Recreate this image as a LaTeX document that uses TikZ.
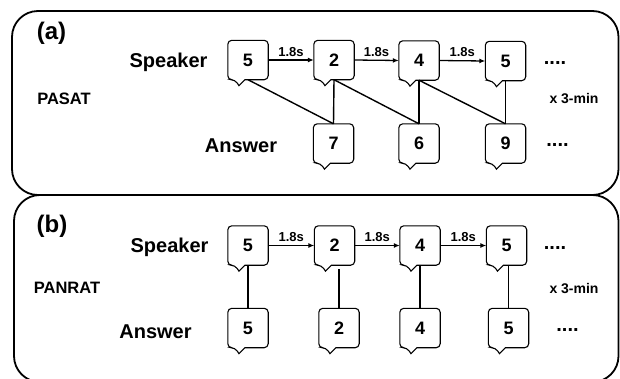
\documentclass[tikz,border=0pt]{standalone}
\usepackage{fontspec}
\setmainfont{Liberation Sans}
\usetikzlibrary{arrows.meta}

\tikzset{
  panel/.style={line width=1.8pt, rounded corners=26pt},
  bubble/.style={minimum width=40pt, minimum height=39pt, inner sep=0pt,
    font=\fontsize{18}{18}\selectfont\bfseries,
    append after command={\pgfextra{\let\bubblenode\tikzlastnode
      \draw[line width=1.1pt]
        ([xshift=-13pt]\bubblenode.south) -- ++(4pt,-6pt) -- ++(6pt,6pt)
        [rounded corners=4pt] -- (\bubblenode.south east) -- (\bubblenode.north east)
        -- (\bubblenode.north west) -- (\bubblenode.south west) -- cycle;}}},
  link/.style={line width=1.4pt},
  pace/.style={-{Latex[length=6pt,width=5pt]}, line width=1.3pt},
  timing/.style={font=\fontsize{13}{13}\selectfont\bfseries, inner sep=3pt},
  role/.style={font=\fontsize{20}{20}\selectfont\bfseries, anchor=base},
  testname/.style={font=\fontsize{16.5}{16.5}\selectfont\bfseries, anchor=base},
  tag/.style={font=\fontsize{24}{24}\selectfont\bfseries, anchor=base},
  etc/.style={font=\fontsize{20}{20}\selectfont\bfseries},
  note/.style={font=\fontsize{14}{14}\selectfont\bfseries}
}

\begin{document}
\begin{tikzpicture}[x=1pt, y=-1pt]
    \useasboundingbox (0,0) rectangle (620,378);
    \clip (0,0) rectangle (620,378);

    \draw[panel] (12,11) rectangle (618.5,195);
    \draw[panel] (14,195) rectangle (618.5,382);

    % (a) PASAT
    \node[tag] (taga) at (51.5,39) {(a)};
    \node[testname] (pasat) at (64,104) {PASAT};
    \node[role] (spka) at (168.5,67) {Speaker};
    \node[role] (ansa) at (241,152) {Answer};

    \node[bubble] (sa1) at (248,60) {5};
    \node[bubble] (sa2) at (334,60) {2};
    \node[bubble] (sa3) at (419,60.5) {4};
    \node[bubble] (sa4) at (505.5,61) {5};
    \node[bubble] (aa1) at (333.5,143.5) {7};
    \node[bubble] (aa2) at (419,143.5) {6};
    \node[bubble] (aa3) at (505.5,143.5) {9};

    \draw[pace] (sa1.east) -- node[above, timing] {1.8s} (sa2.west);
    \draw[pace] (sa2.east) -- node[above, timing] {1.8s} (sa3.west);
    \draw[pace] (sa3.east) -- node[above, timing] {1.8s} (sa4.west);

    \draw[link] (sa1.south) -- (aa1.north);
    \draw[link] (sa2.south) -- (aa1.north);
    \draw[link] (sa2.south) -- (aa2.north);
    \draw[link] (sa3.south) -- (aa2.north);
    \draw[link] (sa3.south) -- (aa3.north);
    \draw[link] (sa4.south) -- (aa3.north);

    \node[etc] (morespa) at (555,63) {....};
    \node[etc] (moreansa) at (557.5,145) {....};
    \node[note] (timea) at (574,99) {x 3-min};

    % (b) PANRAT
    \node[tag] (tagb) at (52,232) {(b)};
    \node[testname] (panrat) at (67,293) {PANRAT};
    \node[role] (spkb) at (169.5,252) {Speaker};
    \node[role] (ansb) at (155.5,338) {Answer};

    \node[bubble] (sb1) at (248,245.5) {5};
    \node[bubble] (sb2) at (334.5,245.5) {2};
    \node[bubble] (sb3) at (420,245.5) {4};
    \node[bubble] (sb4) at (506.5,245.5) {5};
    \node[bubble] (ab1) at (248,328) {5};
    \node[bubble] (ab2) at (339,328) {2};
    \node[bubble] (ab3) at (420,328) {4};
    \node[bubble] (ab4) at (508.5,328) {5};

    \draw[pace] (sb1.east) -- node[above, timing] {1.8s} (sb2.west);
    \draw[pace] (sb2.east) -- node[above, timing] {1.8s} (sb3.west);
    \draw[pace] (sb3.east) -- node[above, timing] {1.8s} (sb4.west);

    \draw[link] (ab1.north) -- (ab1.north |- sb1.south);
    \draw[link, shorten >=4pt] (ab2.north) -- (ab2.north |- sb2.south);
    \draw[link] (ab3.north) -- (ab3.north |- sb3.south);
    \draw[link] (ab4.north) -- (ab4.north |- sb4.south);

    \node[etc] (morespb) at (555,248) {....};
    \node[etc] (moreansb) at (567.5,330) {....};
    \node[note] (timeb) at (574,288) {x 3-min};
\end{tikzpicture}
\end{document}
